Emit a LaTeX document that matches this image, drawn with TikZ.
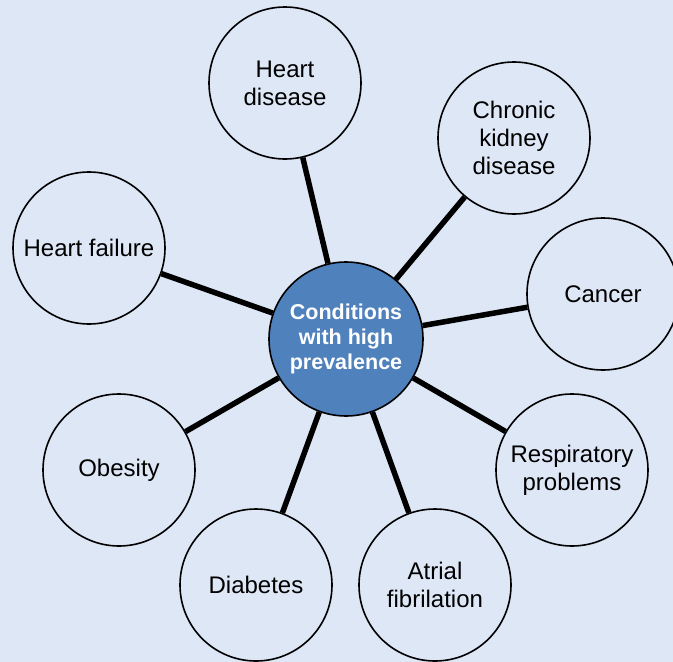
\documentclass[tikz,border=0pt]{standalone}
\usepackage{fontspec}
\setmainfont{Liberation Sans}
\definecolor{paper}{RGB}{222,231,246}
\definecolor{hubblue}{RGB}{79,129,189}
\begin{document}
\begin{tikzpicture}[x=1pt,y=-1pt]
	\tikzstyle{condition}=[circle,draw=black,line width=1.6pt,minimum size=152pt,inner sep=0pt,align=center,font=\fontsize{24}{28}\selectfont]
	\tikzstyle{hub}=[circle,draw=black,line width=1.6pt,fill=hubblue,text=white,minimum size=154pt,inner sep=0pt,align=center,font=\fontsize{21.5}{25}\selectfont\bfseries]
	\tikzstyle{edge}=[draw, line width=5.5pt]
	\fill[paper] (0,0) rectangle (673,662);
	\useasboundingbox (0,0) rectangle (673,662);
	\begin{scope}
		\node [hub] (c0) at (346,339) {Conditions\\with high\\prevalence};
		\node [condition] (c1) at (285,83) {Heart\\disease};
		\node [condition] (c2) at (514,138) {Chronic\\kidney\\disease};
		\node [condition] (c3) at (603,294) {Cancer};
		\node [condition] (c4) at (572,470) {Respiratory\\problems};
		\node [condition] (c5) at (435,585) {Atrial\\fibrilation};
		\node [condition] (c6) at (256,585) {Diabetes};
		\node [condition] (c7) at (119,470) {Obesity};
		\node [condition] (c8) at (89,248) {Heart failure};

		\foreach \n in {1,...,8}
			\path[edge] (c0) edge (c\n);
	\end{scope}
\end{tikzpicture}
\end{document}
